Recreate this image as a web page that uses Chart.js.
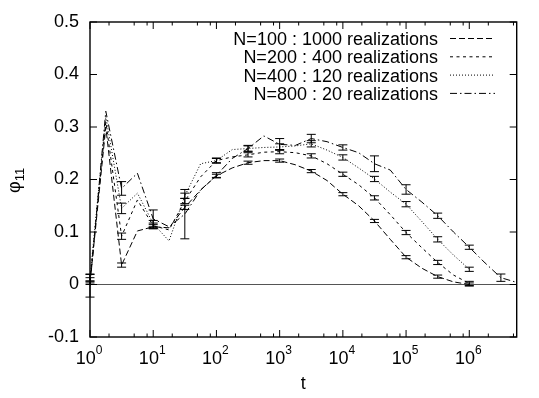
<!DOCTYPE html>
<html><head><meta charset="utf-8">
<script src="https://cdn.jsdelivr.net/npm/chart.js@4.4.0/dist/chart.umd.min.js"></script>
<style>html,body{margin:0;padding:0;background:#fff}#wrap{width:539px;height:398px}</style>
</head><body><div id="wrap"><canvas id="c" width="539" height="398"></canvas></div>
<script>
// time points (quarter decades)
const T = [1, 1.778, 3.162, 5.623, 10, 17.78, 31.62, 56.23, 100, 177.8, 316.2, 562.3,
  1000, 1778, 3162, 5623, 10000, 17780, 31620, 56230, 100000, 177800, 316200, 562300,
  1000000, 1778000, 3162000, 5623000];

const N100 = [0.003, 0.30, 0.037, 0.102, 0.110, 0.108, 0.147, 0.180, 0.207, 0.222, 0.232, 0.236,
  0.236, 0.228, 0.216, 0.198, 0.172, 0.150, 0.121, 0.086, 0.052, 0.031, 0.015, 0.005,
  0.000, null, null, null];
const N200 = [0.008, 0.31, 0.092, 0.161, 0.112, 0.104, 0.159, 0.205, 0.236, 0.243, 0.247, 0.252,
  0.253, 0.251, 0.245, 0.230, 0.210, 0.190, 0.165, 0.133, 0.099, 0.070, 0.042, 0.018,
  0.002, null, null, null];
const N400 = [0.013, 0.32, 0.145, 0.174, 0.116, 0.083, 0.169, 0.230, 0.236, 0.257, 0.259, 0.261,
  0.262, 0.264, 0.268, 0.256, 0.242, 0.222, 0.201, 0.176, 0.153, 0.120, 0.086, 0.056,
  0.029, null, null, null];
const N800 = [-0.002, 0.33, 0.183, 0.212, 0.125, 0.110, 0.134, 0.180, 0.208, 0.240, 0.259, 0.283,
  0.267, 0.265, 0.278, 0.272, 0.261, 0.251, 0.230, 0.218, 0.181, 0.157, 0.131, 0.100,
  0.071, 0.041, 0.013, 0.004];

const E100 = [0.003, null, 0.004, null, 0.004, null, 0.004, null, 0.003, null, 0.003, null,
  0.003, null, 0.003, null, 0.003, null, 0.003, null, 0.003, null, 0.003, null, 0.003, null, null, null];
const E200 = [0.005, null, 0.006, null, 0.005, null, 0.005, null, 0.004, null, 0.004, null,
  0.004, null, 0.004, null, 0.004, null, 0.004, null, 0.004, null, 0.004, null, 0.004, null, null, null];
const E400 = [0.006, null, 0.010, null, 0.006, null, 0.005, null, 0.005, null, 0.005, null,
  0.006, null, 0.006, null, 0.005, null, 0.005, null, 0.005, null, 0.005, null, 0.004, null, null, null];
const E800 = [0.022, null, 0.013, null, 0.017, null, 0.047, null, 0.005, null, 0.006, null,
  0.011, null, 0.008, null, 0.005, null, 0.015, null, 0.009, null, 0.005, null, 0.004, null, 0.007, null];

const LABELS = ['N=100 : 1000 realizations', 'N=200 : 400 realizations',
  'N=400 : 120 realizations', 'N=800 : 20 realizations'];
const Y_TICKS = [-0.1, 0, 0.1, 0.2, 0.3, 0.4, 0.5];
const X_EXPONENTS = [0, 1, 2, 3, 4, 5, 6];
const X_MINOR = [2, 5, 8];
const X_TITLE = 't';
const Y_TITLE = 'φ';
const Y_TITLE_SUB = '11';

const FONT = '"Liberation Sans", Arial, Helvetica, sans-serif';
const DASHES = [[6, 3], [3, 3.5], [1, 2], [7, 3, 1.5, 3]];
const SERIES = [N100, N200, N400, N800];
const ERRS = [E100, E200, E400, E800];

const datasets = SERIES.map((s, i) => ({
  label: LABELS[i],
  data: T.map((t, j) => ({x: t, y: s[j]})).filter(p => p.y !== null),
  errs: T.map((t, j) => ({x: t, y: s[j], e: ERRS[i][j]})).filter(p => p.y !== null && p.e !== null),
  borderColor: '#000',
  borderWidth: 1,
  borderDash: DASHES[i],
  pointRadius: 0,
  fill: false,
  tension: 0
}));

const decor = {
  id: 'decor',
  afterDatasetsDraw(chart) {
    const {ctx, scales: {x, y}} = chart;
    ctx.save();
    ctx.strokeStyle = '#000';
    ctx.lineWidth = 1;
    ctx.setLineDash([]);
    chart.data.datasets.forEach(ds => {
      ds.errs.forEach(p => {
        const px = x.getPixelForValue(p.x);
        const y1 = y.getPixelForValue(p.y - p.e);
        const y2 = y.getPixelForValue(p.y + p.e);
        ctx.beginPath();
        ctx.moveTo(px, y1); ctx.lineTo(px, y2);
        ctx.moveTo(px - 4.5, y1); ctx.lineTo(px + 4.5, y1);
        ctx.moveTo(px - 4.5, y2); ctx.lineTo(px + 4.5, y2);
        ctx.stroke();
      });
    });
    ctx.restore();
  },
  afterDraw(chart) {
    const {ctx, chartArea: a, scales: {x, y}} = chart;
    ctx.save();
    ctx.strokeStyle = '#000';
    ctx.fillStyle = '#000';
    ctx.setLineDash([]);
    // frame
    ctx.lineWidth = 1.4;
    ctx.strokeRect(a.left, a.top, a.right - a.left, a.bottom - a.top);
    ctx.lineWidth = 1;
    ctx.beginPath();
    // y ticks
    Y_TICKS.forEach(v => {
      const py = y.getPixelForValue(v);
      ctx.moveTo(a.left, py); ctx.lineTo(a.left + 7, py);
      ctx.moveTo(a.right, py); ctx.lineTo(a.right - 7, py);
    });
    // x ticks
    X_EXPONENTS.forEach(d => {
      const base = Math.pow(10, d);
      const px = x.getPixelForValue(base);
      ctx.moveTo(px, a.bottom); ctx.lineTo(px, a.bottom - 7);
      ctx.moveTo(px, a.top); ctx.lineTo(px, a.top + 7);
      X_MINOR.forEach(m => {
        const v = m * base;
        if (v > x.max) return;
        const pm = x.getPixelForValue(v);
        ctx.moveTo(pm, a.bottom); ctx.lineTo(pm, a.bottom - 3.5);
        ctx.moveTo(pm, a.top); ctx.lineTo(pm, a.top + 3.5);
      });
    });
    ctx.stroke();

    // x tick labels 10^n
    ctx.textBaseline = 'alphabetic';
    ctx.textAlign = 'left';
    X_EXPONENTS.forEach(d => {
      const px = x.getPixelForValue(Math.pow(10, d));
      ctx.font = '18px ' + FONT;
      const w1 = ctx.measureText('10').width;
      ctx.font = '12px ' + FONT;
      const w2 = ctx.measureText(String(d)).width;
      const x0 = px - (w1 + w2) / 2 - 1;
      ctx.font = '18px ' + FONT;
      ctx.fillText('10', x0, 364);
      ctx.font = '12px ' + FONT;
      ctx.fillText(String(d), x0 + w1, 354);
    });

    // y title
    ctx.save();
    ctx.translate(20, 193);
    ctx.rotate(-Math.PI / 2);
    ctx.font = '18px ' + FONT;
    ctx.fillText(Y_TITLE, 0, 0);
    const wphi = ctx.measureText(Y_TITLE).width;
    ctx.font = '13px ' + FONT;
    ctx.fillText(Y_TITLE_SUB, wphi, 4);
    ctx.restore();

    // legend
    ctx.font = '18px ' + FONT;
    ctx.textAlign = 'right';
    chart.data.datasets.forEach((ds, i) => {
      const base = 45 + i * 18.3;
      ctx.fillText(ds.label, 438, base);
      ctx.beginPath();
      ctx.setLineDash(ds.borderDash);
      ctx.lineWidth = 1;
      ctx.moveTo(450, base - 6.5); ctx.lineTo(495, base - 6.5);
      ctx.stroke();
    });
    ctx.restore();
  }
};

new Chart(document.getElementById('c'), {
  type: 'line',
  data: {datasets},
  options: {
    responsive: false,
    animation: false,
    devicePixelRatio: 1,
    layout: {padding: {top: 22, right: 22.3, bottom: 0, left: 0}},
    plugins: {legend: {display: false}, tooltip: {enabled: false}},
    scales: {
      x: {
        type: 'logarithmic',
        min: 1,
        max: 5623000,
        border: {display: false},
        grid: {display: false},
        ticks: {display: false},
        afterFit(s) { s.height = 61; },
        title: {display: true, text: X_TITLE, color: '#000', font: {family: FONT, size: 18}, padding: {top: 0, bottom: 3}}
      },
      y: {
        type: 'linear',
        min: -0.1,
        max: 0.5,
        afterBuildTicks(s) { s.ticks = Y_TICKS.map(v => ({value: v})); },
        border: {display: false},
        grid: {
          drawTicks: false,
          color: c => (c.tick && Math.abs(c.tick.value) < 1e-9) ? '#555' : 'rgba(0,0,0,0)',
          lineWidth: 1
        },
        ticks: {
          color: '#000',
          padding: 11,
          font: {family: FONT, size: 18},
          callback: v => (Math.abs(v) < 1e-9 ? '0' : (Math.round(v * 10) / 10).toFixed(1))
        },
        afterFit(s) { s.width = 90; }
      }
    }
  },
  plugins: [decor]
});
</script>
</body></html>
